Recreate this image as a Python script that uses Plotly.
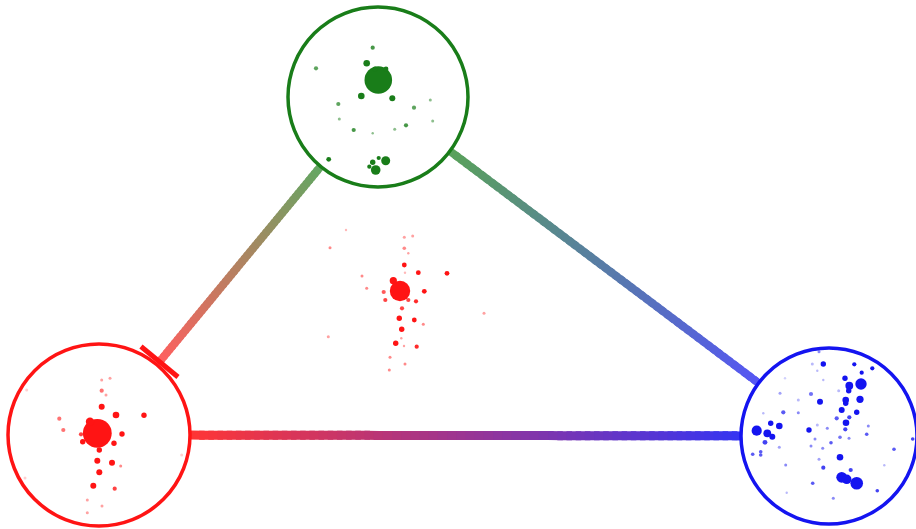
import plotly.graph_objects as go
import numpy as np

# ---- nodes ----
NODE_NAMES = ["green", "red", "blue"]
NODE_X = [378, 99, 829]
NODE_Y = [97, 435, 436]
NODE_R = [90, 91, 88]
NODE_COLORS = [(25, 125, 25), (255, 20, 20), (20, 20, 240)]

# edges: (from, to, kind)
EDGES = [(0, 1, "inhibit"), (0, 2, "arrow"), (1, 2, "arrow")]
EDGE_ALPHA = [0.68, 0.72, 0.86]

# ---- dots (x, y, diameter, opacity) ----
GREEN_X = [378.3, 375, 386, 372.7, 366.7, 316, 361.3, 392.3, 338.3, 414, 430.3, 339.3, 353.7, 372.7, 394.7, 406, 432.7, 328.7, 375.7, 385.7, 372.7, 378.7, 369.3]
GREEN_Y = [80, 69, 69, 47.7, 63.3, 68.3, 96, 98.3, 104, 107.7, 100, 119, 130, 133.3, 129.3, 125.3, 121, 159.3, 170, 160.7, 162.3, 158, 166.7]
GREEN_S = [23, 4, 4, 3.5, 5.5, 3.5, 5.5, 5, 3.5, 3.5, 2.5, 2.5, 3.5, 2, 2.5, 3.5, 2.5, 4, 8, 7.5, 4.5, 3.5, 3.5]
GREEN_A = [1, 1, 1, 0.8, 1, 0.7, 1, 1, 0.7, 0.7, 0.5, 0.5, 0.8, 0.5, 0.5, 0.8, 0.5, 1, 1, 1, 1, 1, 1]

RED_X = [97.3, 90, 101.7, 116, 144, 59.3, 63.3, 81, 82.7, 122, 114, 99.3, 97.3, 112, 120.7, 99.3, 93.3, 114.7, 101.7, 110, 101.7, 106, 87.3, 102, 87.3, 26.7, 25, 181.7]
RED_Y = [433.3, 421.7, 406.7, 415, 415.3, 418.7, 430, 434.3, 441.7, 434, 443.3, 450, 460.7, 462.7, 466, 472.3, 485.7, 488.7, 380, 378.3, 390.7, 395, 500, 506, 512.7, 390, 478, 455]
RED_S = [24, 7, 5, 5.5, 4.5, 3.5, 3.5, 3.5, 4.5, 4.5, 4.5, 4.5, 5, 5, 2.5, 5, 5, 3.5, 2.5, 2.5, 3.5, 2.5, 2.5, 2.5, 2.5, 2.5, 2.5, 2.5]
RED_A = [1, 1, 1, 1, 1, 0.6, 0.6, 0.8, 1, 1, 1, 1, 1, 1, 0.5, 1, 1, 0.8, 0.4, 0.4, 0.6, 0.4, 0.4, 0.4, 0.4, 0.2, 0.2, 0.2]

CENTER_X = [400, 393.3, 404.3, 418.3, 447, 362, 366.7, 383.7, 424.3, 385.3, 408.3, 416, 402, 399.3, 414.3, 423.3, 401.7, 401.3, 395.7, 416.7, 404, 390, 405, 389.3, 404.3, 412.7, 404.3, 408.3, 330, 346, 328.3, 484, 405]
CENTER_Y = [291, 280.7, 265, 272.7, 273.3, 276, 288.3, 292, 291.3, 300, 300, 301.3, 308.3, 318.3, 320, 324.3, 329.3, 338.3, 343.3, 346.7, 346, 357.3, 364, 370, 237.3, 236, 248.3, 253.3, 247.7, 230, 336.7, 313.3, 272.7]
CENTER_S = [17, 6, 4, 4, 4, 2.5, 2.5, 3.5, 4, 3.5, 3.5, 3.5, 3.5, 4.5, 4, 2.5, 4.5, 2, 4.5, 3.5, 2, 2.5, 2.5, 2.5, 2.5, 2.5, 3, 2, 2.5, 2, 2.5, 2.5, 2]
CENTER_A = [1, 1, 1, 1, 1, 0.5, 0.5, 0.7, 1, 0.8, 0.8, 0.9, 0.8, 1, 1, 0.5, 1, 0.4, 1, 0.9, 0.4, 0.5, 0.5, 0.5, 0.4, 0.4, 0.5, 0.4, 0.5, 0.3, 0.4, 0.4, 0.3]

BLUE_X = [823.3, 854.3, 872.3, 861.7, 845, 861, 849.3, 848.7, 838.7, 780, 811, 860, 845.7, 820, 798.3, 845.7, 841.7, 856.7, 783.3, 798.3, 763.3, 836.7, 849.3, 770.7, 779.3, 846, 817.3, 827.3, 845.3, 868.3, 809, 756.7, 767.3, 772.3, 866.7, 815, 840, 849, 831, 765, 912.7, 811, 779.3, 822.7, 894, 760.7, 760.7, 752.7, 840, 819, 785.7, 823.3, 850.7, 884.3, 841.7, 846.7, 856.7, 812.7, 877.3, 786.7, 833.3, 819, 812.3, 817.3, 823.3, 905, 785]
BLUE_Y = [364, 364.3, 368.3, 372.7, 378.3, 384, 385.7, 390.7, 390.7, 393.3, 394, 399.3, 400, 401.7, 400, 403.3, 410, 412.3, 412.3, 412.7, 413.3, 418.3, 417.3, 423.3, 426, 422.7, 425, 428.3, 429.3, 426, 430, 430.7, 433.3, 436.7, 434.3, 439, 437.3, 438.3, 442.7, 442.3, 439, 446, 447.3, 448.3, 449.3, 451.7, 455, 454.3, 457.3, 459.3, 465, 467.7, 470, 465.3, 477.3, 479.3, 483.3, 483.3, 490.7, 492.7, 498.3, 351.7, 364, 370.7, 380, 478.3, 378.3]
BLUE_S = [4.5, 3.5, 3.5, 3.5, 4.5, 9.5, 6.5, 4.5, 2.5, 2.5, 3.5, 6, 5.5, 5, 2.5, 4.5, 5, 4.5, 3.5, 2.5, 2, 3.5, 3.5, 4.5, 5.5, 5.5, 2.5, 2.5, 3.5, 2.5, 4.5, 8.5, 6.5, 5, 3, 2.5, 3, 2.5, 3, 4, 3, 2.5, 2.5, 2.5, 3, 3, 3, 3, 5.5, 2.5, 2.5, 3.5, 3.5, 2, 9, 8, 10.5, 3, 3, 2, 2.5, 2.5, 2.5, 2, 2, 2, 2]
BLUE_A = [1, 1, 1, 1, 1, 1, 1, 1, 0.3, 0.4, 0.6, 1, 1, 1, 0.3, 1, 1, 1, 0.7, 0.5, 0.3, 0.7, 0.8, 1, 1, 1, 0.3, 0.5, 0.8, 0.5, 1, 1, 1, 1, 0.7, 0.5, 0.6, 0.5, 0.7, 0.8, 0.8, 0.5, 0.4, 0.5, 0.7, 0.7, 0.7, 0.7, 1, 0.4, 0.5, 0.8, 0.8, 0.3, 1, 1, 1, 0.7, 0.8, 0.3, 0.5, 0.5, 0.3, 0.3, 0.3, 0.2, 0.2]

W, H = 916, 529
SIZE_SCALE = 1.2


def rgba(c, a):
    return f"rgba({int(round(c[0]))},{int(round(c[1]))},{int(round(c[2]))},{a:.3f})"


def tint(c, a):
    # colour c at alpha a over white
    return tuple(255 - (255 - v) * a for v in c)


fig = go.Figure()
shapes = []

# gradient edges
for (i, j, kind), alpha in zip(EDGES, EDGE_ALPHA):
    p = np.array([NODE_X[i], NODE_Y[i]], float)
    q = np.array([NODE_X[j], NODE_Y[j]], float)
    d = (q - p) / np.linalg.norm(q - p)
    start = p + d * NODE_R[i]
    if kind == "inhibit":
        end = q - d * (NODE_R[j] + 4)
    else:
        end = q - d * NODE_R[j]
    c0 = np.array(tint(NODE_COLORS[i], alpha))
    c1 = np.array(tint(NODE_COLORS[j], alpha))
    n = 60
    width = 9 if (i, j) == (1, 2) else 8
    seg = (end - start) / n
    for k in range(n):
        a = start + seg * k
        b = start + seg * (k + 1) + (seg * 0.6 if k < n - 1 else 0)
        c = c0 + (c1 - c0) * ((k + 0.5) / n)
        shapes.append(dict(type="line", x0=a[0], y0=a[1], x1=b[0], y1=b[1],
                           line=dict(color=rgba(c, 1), width=width), layer="below"))
    if kind == "inhibit":
        perp = np.array([-d[1], d[0]])
        e1 = end + perp * 24
        e2 = end - perp * 24
        shapes.append(dict(type="line", x0=e1[0], y0=e1[1], x1=e2[0], y1=e2[1],
                           line=dict(color=rgba(NODE_COLORS[j], 1), width=5), layer="below"))

# node circles
for x, y, r, c in zip(NODE_X, NODE_Y, NODE_R, NODE_COLORS):
    shapes.append(dict(type="circle", x0=x - r, y0=y - r, x1=x + r, y1=y + r,
                       line=dict(color=rgba(c, 1), width=3.5), fillcolor="rgba(0,0,0,0)", layer="above"))

dot_sets = [
    (GREEN_X, GREEN_Y, GREEN_S, GREEN_A, NODE_COLORS[0]),
    (RED_X, RED_Y, RED_S, RED_A, NODE_COLORS[1]),
    (CENTER_X, CENTER_Y, CENTER_S, CENTER_A, NODE_COLORS[1]),
    (BLUE_X, BLUE_Y, BLUE_S, BLUE_A, NODE_COLORS[2]),
]
for xs, ys, ss, aa, c in dot_sets:
    fig.add_trace(go.Scatter(
        x=xs, y=ys, mode="markers",
        marker=dict(size=[s * SIZE_SCALE for s in ss], opacity=1,
                    color=[rgba(c, a) for a in aa], line=dict(width=0)),
        hoverinfo="skip", showlegend=False))

fig.update_layout(
    width=W, height=H,
    margin=dict(l=0, r=0, t=0, b=0),
    paper_bgcolor="white", plot_bgcolor="white",
    shapes=shapes,
    xaxis=dict(range=[0, W], visible=False, fixedrange=True),
    yaxis=dict(range=[H, 0], visible=False, fixedrange=True),
    showlegend=False,
)

fig.write_html("out.html", config={"displayModeBar": False},
               post_script="document.body.style.margin='0';")
